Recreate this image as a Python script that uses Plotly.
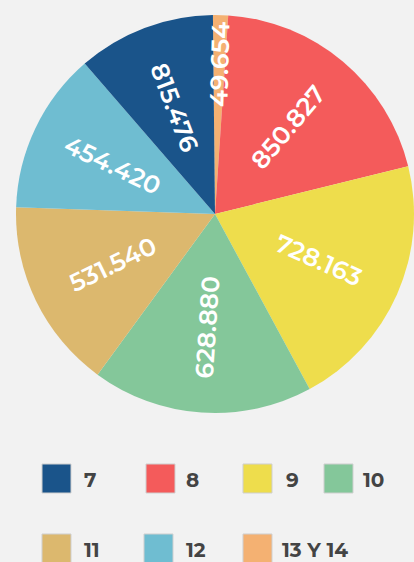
import math
import plotly.graph_objects as go

# ---- data ----
categories = ["7", "8", "9", "10", "11", "12", "13 Y 14"]
values = [815476, 850827, 728163, 628880, 531540, 454420, 49654]
colors = ["#1a548a", "#f45b5b", "#eedd4c", "#84c79a", "#dcb86e", "#6fbdd1", "#f4b172"]

# In the reference the coloured/labelled slices (clockwise from 12 o'clock)
# are sized by a neighbouring category's value; reproduce that arrangement.
slice_label_order = ["13 Y 14", "8", "9", "10", "11", "12", "7"]
slice_size_order = ["13 Y 14", "7", "8", "9", "10", "11", "12"]

val = dict(zip(categories, values))
col = dict(zip(categories, colors))

W, H = 414, 562
FONT = "Montserrat, 'Open Sans', sans-serif"

# pie geometry (pixels)
CX, CY, R = 215, 214, 199
ROT = -0.6

sizes = [val[c] for c in slice_size_order]
fig = go.Figure()
fig.add_trace(go.Pie(
    labels=slice_label_order,
    values=sizes,
    customdata=[val[c] for c in slice_label_order],
    textinfo="none",
    marker=dict(colors=[col[c] for c in slice_label_order], line=dict(width=0)),
    sort=False,
    direction="clockwise",
    rotation=ROT,
    showlegend=False,
    domain=dict(x=[(CX - R) / W, min(1, (CX + R) / W)],
                y=[(H - CY - R) / H, (H - CY + R) / H]),
    hovertemplate="%{label}: %{customdata:,}<extra></extra>",
))

annos, shapes = [], []

# ---- radial value labels inside slices ----
total = sum(sizes)
cum = 0
for c, s in zip(slice_label_order, sizes):
    frac = s / total
    theta = ROT + 360 * (cum + s / 2) / total
    cum += s
    d = (0.75 if frac * 360 < 10 else 0.57) * R
    t = math.radians(theta)
    px, py = CX + d * math.sin(t), CY - d * math.cos(t)
    ang = theta - 90
    while ang > 90:
        ang -= 180
    while ang <= -90:
        ang += 180
    annos.append(dict(text=f"{val[c]:,}".replace(",", "."), xref="paper", yref="paper",
                      x=px / W, y=1 - py / H, xanchor="center", yanchor="middle",
                      textangle=ang, showarrow=False,
                      font=dict(family=FONT, size=25, color="white", weight=600)))

# ---- custom legend (large square swatches like the reference) ----
sq_x = [42, 146, 243, 324, 42, 144, 243]
sq_top = [464, 464, 464, 464, 534, 534, 534]
txt_x = [82, 184, 284, 361, 82, 184, 280]
sq = 29
for i, c in enumerate(categories):
    x0, y0 = sq_x[i], sq_top[i]
    shapes.append(dict(type="rect", xref="paper", yref="paper",
                       x0=x0 / W, x1=(x0 + sq) / W,
                       y0=1 - (y0 + sq) / H, y1=1 - y0 / H,
                       fillcolor=col[c], line=dict(color="#cfcfcf", width=1)))
    annos.append(dict(text=c, xref="paper", yref="paper",
                      x=txt_x[i] / W, y=1 - (y0 + sq / 2 + 1) / H,
                      xanchor="left", yanchor="middle", showarrow=False,
                      font=dict(family=FONT, size=20, color="#444444", weight=700)))

fig.update_layout(
    width=W, height=H,
    margin=dict(l=0, r=0, t=0, b=0),
    paper_bgcolor="#f2f2f2",
    plot_bgcolor="#f2f2f2",
    separators=",.",
    shapes=shapes,
    annotations=annos,
)

fig.write_html("out.html",
               config={"displayModeBar": False},
               post_script="document.body.style.margin='0';document.body.style.background='#f2f2f2';")
